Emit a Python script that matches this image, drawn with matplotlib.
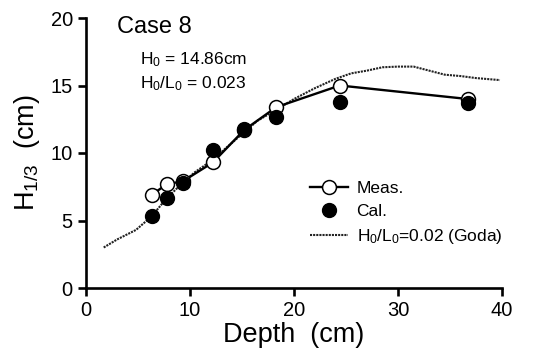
import numpy as np
import matplotlib
matplotlib.use("Agg")
from matplotlib import pyplot as plt

plt.rcParams['font.family'] = ['Liberation Sans', 'DejaVu Sans']
plt.rcParams['mathtext.fontset'] = 'custom'
plt.rcParams['mathtext.rm'] = 'Liberation Sans'
plt.rcParams['mathtext.it'] = 'Liberation Sans'
plt.rcParams['mathtext.default'] = 'regular'

# datos
depth = [6.3, 7.8, 9.3, 12.2, 15.2, 18.3, 24.4, 36.7]
h_meas = [6.9, 7.7, 7.9, 9.3, 11.7, 13.4, 15.0, 14.0]
h_cal = [5.3, 6.7, 7.75, 10.2, 11.8, 12.7, 13.8, 13.7]

goda_x = [1.7, 3.0, 4.8, 6.3, 7.7, 9.3, 10.5, 12.2, 13.5, 15.0, 16.5, 18.3,
          20.0, 22.0, 24.0, 25.5, 27.0, 28.5, 30.0, 31.5, 33.0, 34.5, 36.0,
          37.5, 39.8]
goda_y = [3.0, 3.6, 4.3, 5.3, 6.6, 7.8, 8.6, 9.5, 10.4, 11.4, 12.4, 13.2,
          14.0, 14.8, 15.5, 15.9, 16.1, 16.35, 16.4, 16.4, 16.1, 15.8, 15.7,
          15.55, 15.4]

x_ticks = [0, 10, 20, 30, 40]
y_ticks = [0, 5, 10, 15, 20]

fig = plt.figure(figsize=(5.41, 3.6), dpi=100)
ax = fig.add_axes([0.159, 0.2, 0.769, 0.75])

ax.plot(goda_x, goda_y, color='#222222', lw=1.5, ls=(0, (1, 0.5)),
        label=r'H$_0$/L$_0$=0.02 (Goda)', zorder=2)
ax.plot(depth, h_meas, color='black', lw=1.7, marker='o', ms=10,
        mfc='white', mec='black', mew=1.1, label='Meas.', zorder=3)
ax.plot(depth, h_cal, ls='none', marker='o', ms=10, mfc='black',
        mec='black', label='Cal.', zorder=4)

ax.set_xlim(0, 40)
ax.set_ylim(0, 20)
ax.set_xticks(x_ticks)
ax.set_yticks(y_ticks)
for s in ['top', 'right']:
    ax.spines[s].set_visible(False)
for s in ['left', 'bottom']:
    ax.spines[s].set_linewidth(1.9)
ax.tick_params(direction='out', length=6, width=1.9, labelsize=14.5)

ax.set_xlabel('Depth  (cm)', fontsize=19.5, labelpad=1)
ax.set_ylabel(r'H$_{1/3}$  (cm)', fontsize=19.5, labelpad=6)

ax.text(3.0, 19.3, 'Case 8', fontsize=17, va='center')
ax.text(5.2, 16.9, r'H$_0$ = 14.86cm', fontsize=12.5, va='center')
ax.text(5.2, 15.1, r'H$_0$/L$_0$ = 0.023', fontsize=12.5, va='center')

handles, labels = ax.get_legend_handles_labels()
order = [1, 2, 0]
leg = ax.legend([handles[i] for i in order], [labels[i] for i in order],
                loc='upper left', bbox_to_anchor=(0.5, 0.455), frameon=False,
                fontsize=12.5, handlelength=2.2, handletextpad=0.5,
                labelspacing=0.45)

fig.savefig('out.png', dpi=100)
